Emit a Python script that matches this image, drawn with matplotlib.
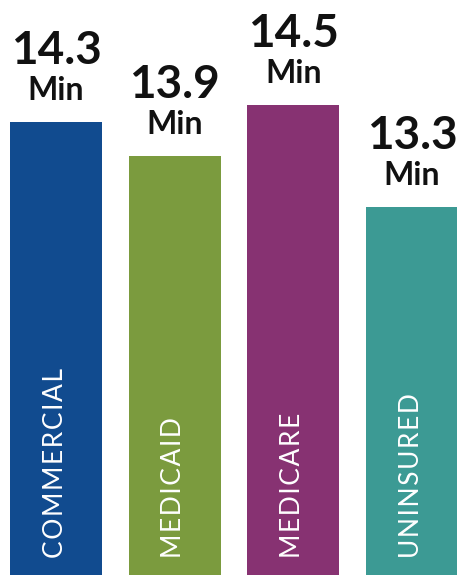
import matplotlib.pyplot as plt

categories = ["COMMERCIAL", "MEDICAID", "MEDICARE", "UNINSURED"]
minutes = [14.3, 13.9, 14.5, 13.3]
value_labels = ["14.3", "13.9", "14.5", "13.3"]
colors = ["#114b8f", "#7b9b3e", "#873272", "#3c9a94"]

fig = plt.figure(figsize=(4.57, 5.75), dpi=100)
ax = fig.add_axes([0, 0, 1, 1])

x = list(range(len(categories)))
bars = ax.bar(x, minutes, width=0.775, color=colors, bottom=0)

ax.set_xlim(-0.472, 3.379)
ax.set_ylim(8.98, 15.735)
ax.axis("off")

fam = ["Lato", "DejaVu Sans"]
for xi, v, lab, cat in zip(x, minutes, value_labels, categories):
    ax.annotate(lab, (xi, v), xytext=(0, 58), textcoords="offset pixels",
                ha="center", va="baseline", fontsize=33, fontweight="bold",
                family=fam, color="#111111")
    ax.annotate("Min", (xi, v), xytext=(0, 22), textcoords="offset pixels",
                ha="center", va="baseline", fontsize=23, fontweight="bold",
                family=fam, color="#111111")
    spaced = "\u200a".join(cat)  # a bit of letter spacing
    ax.annotate(spaced, (xi, 8.98), xytext=(-1, 17), textcoords="offset pixels",
                ha="center", va="bottom", rotation=90, fontsize=19,
                family=fam, color="white")

fig.savefig("out.png", dpi=100)
